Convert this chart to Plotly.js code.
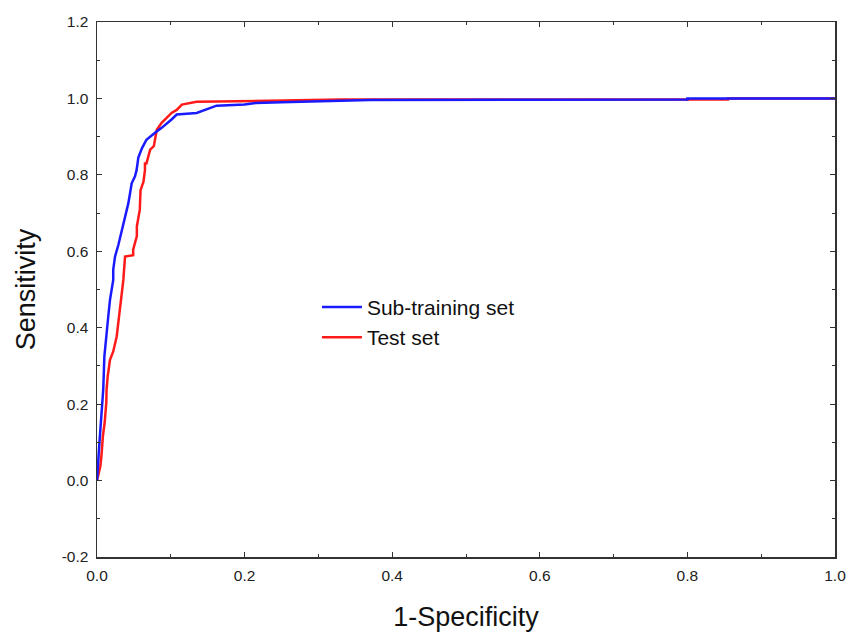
<!DOCTYPE html>
<html>
<head>
<meta charset="utf-8">
<script src="https://cdn.plot.ly/plotly-3.0.1.min.js"></script>
<style>html,body{margin:0;padding:0;background:#fff;}#chart{width:848px;height:633px;}</style>
</head>
<body>
<div id="chart"></div>
<script>
// Sub-training set ROC (1-Specificity, Sensitivity)
var trainFPR = [0, 0.0005, 0.002, 0.0036, 0.005, 0.0072, 0.0085, 0.01, 0.0122, 0.0153, 0.0176, 0.022, 0.022, 0.0244, 0.029, 0.0335, 0.038, 0.0425, 0.047, 0.0515, 0.0537, 0.056, 0.061, 0.067, 0.0786, 0.0876, 0.101, 0.108, 0.135, 0.146, 0.162, 0.2, 0.215, 0.25, 0.31, 0.37, 0.80, 0.80, 1.0];
var trainTPR = [0, 0.03, 0.06, 0.107, 0.15, 0.203, 0.24, 0.325, 0.377, 0.43, 0.473, 0.525, 0.552, 0.586, 0.617, 0.652, 0.691, 0.726, 0.778, 0.796, 0.813, 0.845, 0.87, 0.892, 0.91, 0.923, 0.945, 0.958, 0.962, 0.97, 0.981, 0.984, 0.988, 0.99, 0.993, 0.996, 0.997, 1.0, 1.0];
// Test set ROC
var testFPR = [0, 0.0045, 0.006, 0.008, 0.0104, 0.0126, 0.013, 0.0145, 0.0176, 0.022, 0.0267, 0.031, 0.0357, 0.038, 0.049, 0.049, 0.054, 0.054, 0.058, 0.059, 0.063, 0.065, 0.065, 0.067, 0.072, 0.077, 0.081, 0.0876, 0.101, 0.108, 0.115, 0.135, 0.19, 0.25, 0.33, 0.80, 0.855, 0.855, 1.0];
var testTPR = [0, 0.037, 0.064, 0.116, 0.152, 0.204, 0.238, 0.273, 0.316, 0.338, 0.377, 0.447, 0.525, 0.586, 0.59, 0.604, 0.64, 0.665, 0.709, 0.76, 0.782, 0.813, 0.83, 0.83, 0.866, 0.875, 0.918, 0.936, 0.962, 0.97, 0.984, 0.991, 0.993, 0.995, 0.997, 0.997, 0.997, 1.0, 1.0];
var seriesNames = ["Sub-training set", "Test set"];
var xTickVals = [0, 0.2, 0.4, 0.6, 0.8, 1.0];
var xTickText = ["0.0", "0.2", "0.4", "0.6", "0.8", "1.0"];
var yTickVals = [-0.2, 0, 0.2, 0.4, 0.6, 0.8, 1.0, 1.2];
var yTickText = ["-0.2", "0.0", "0.2", "0.4", "0.6", "0.8", "1.0", "1.2"];

var traces = [
  {x: testFPR, y: testTPR, type: 'scatter', mode: 'lines', name: seriesNames[1],
   line: {color: '#ff1a1a', width: 2.5}, legendrank: 2},
  {x: trainFPR, y: trainTPR, type: 'scatter', mode: 'lines', name: seriesNames[0],
   line: {color: '#1a1aff', width: 2.5}, legendrank: 1}
];

var FONT = 'Liberation Sans, Arial, sans-serif';
var axisCommon = {
  showgrid: false, zeroline: false, showline: true, linecolor: '#333', linewidth: 1.5,
  mirror: 'ticks', ticks: 'inside', ticklen: 5, tickwidth: 1.2, tickcolor: '#333',
  tickfont: {family: FONT, size: 15.5, color: '#222'}
};

var layout = {
  width: 848, height: 633,
  margin: {l: 97, r: 13, t: 22, b: 76},
  paper_bgcolor: '#fff', plot_bgcolor: '#fff',
  showlegend: true,
  legend: {x: 0.298, y: 0.505, xanchor: 'left', yanchor: 'top', bgcolor: 'rgba(0,0,0,0)',
    font: {family: FONT, size: 21, color: '#111'},
    tracegroupgap: 0, itemwidth: 40},
  xaxis: Object.assign({}, axisCommon, {
    range: [0, 1], tickvals: xTickVals, ticktext: xTickText, ticklabelstandoff: 4,
    minor: {ticks: 'inside', ticklen: 3, tickcolor: '#333', tickwidth: 1, dtick: 0.1, tick0: 0},
    title: {text: '1-Specificity', font: {family: FONT, size: 27, color: '#111'}, standoff: 24}
  }),
  yaxis: Object.assign({}, axisCommon, {
    range: [-0.2, 1.2], tickvals: yTickVals, ticktext: yTickText, ticklabelstandoff: 4,
    minor: {ticks: 'inside', ticklen: 3, tickcolor: '#333', tickwidth: 1, dtick: 0.1, tick0: 0},
    title: {text: 'Sensitivity', font: {family: FONT, size: 27, color: '#111'}, standoff: 18}
  })
};

Plotly.newPlot('chart', traces, layout, {displayModeBar: false, staticPlot: true});
</script>
</body>
</html>
